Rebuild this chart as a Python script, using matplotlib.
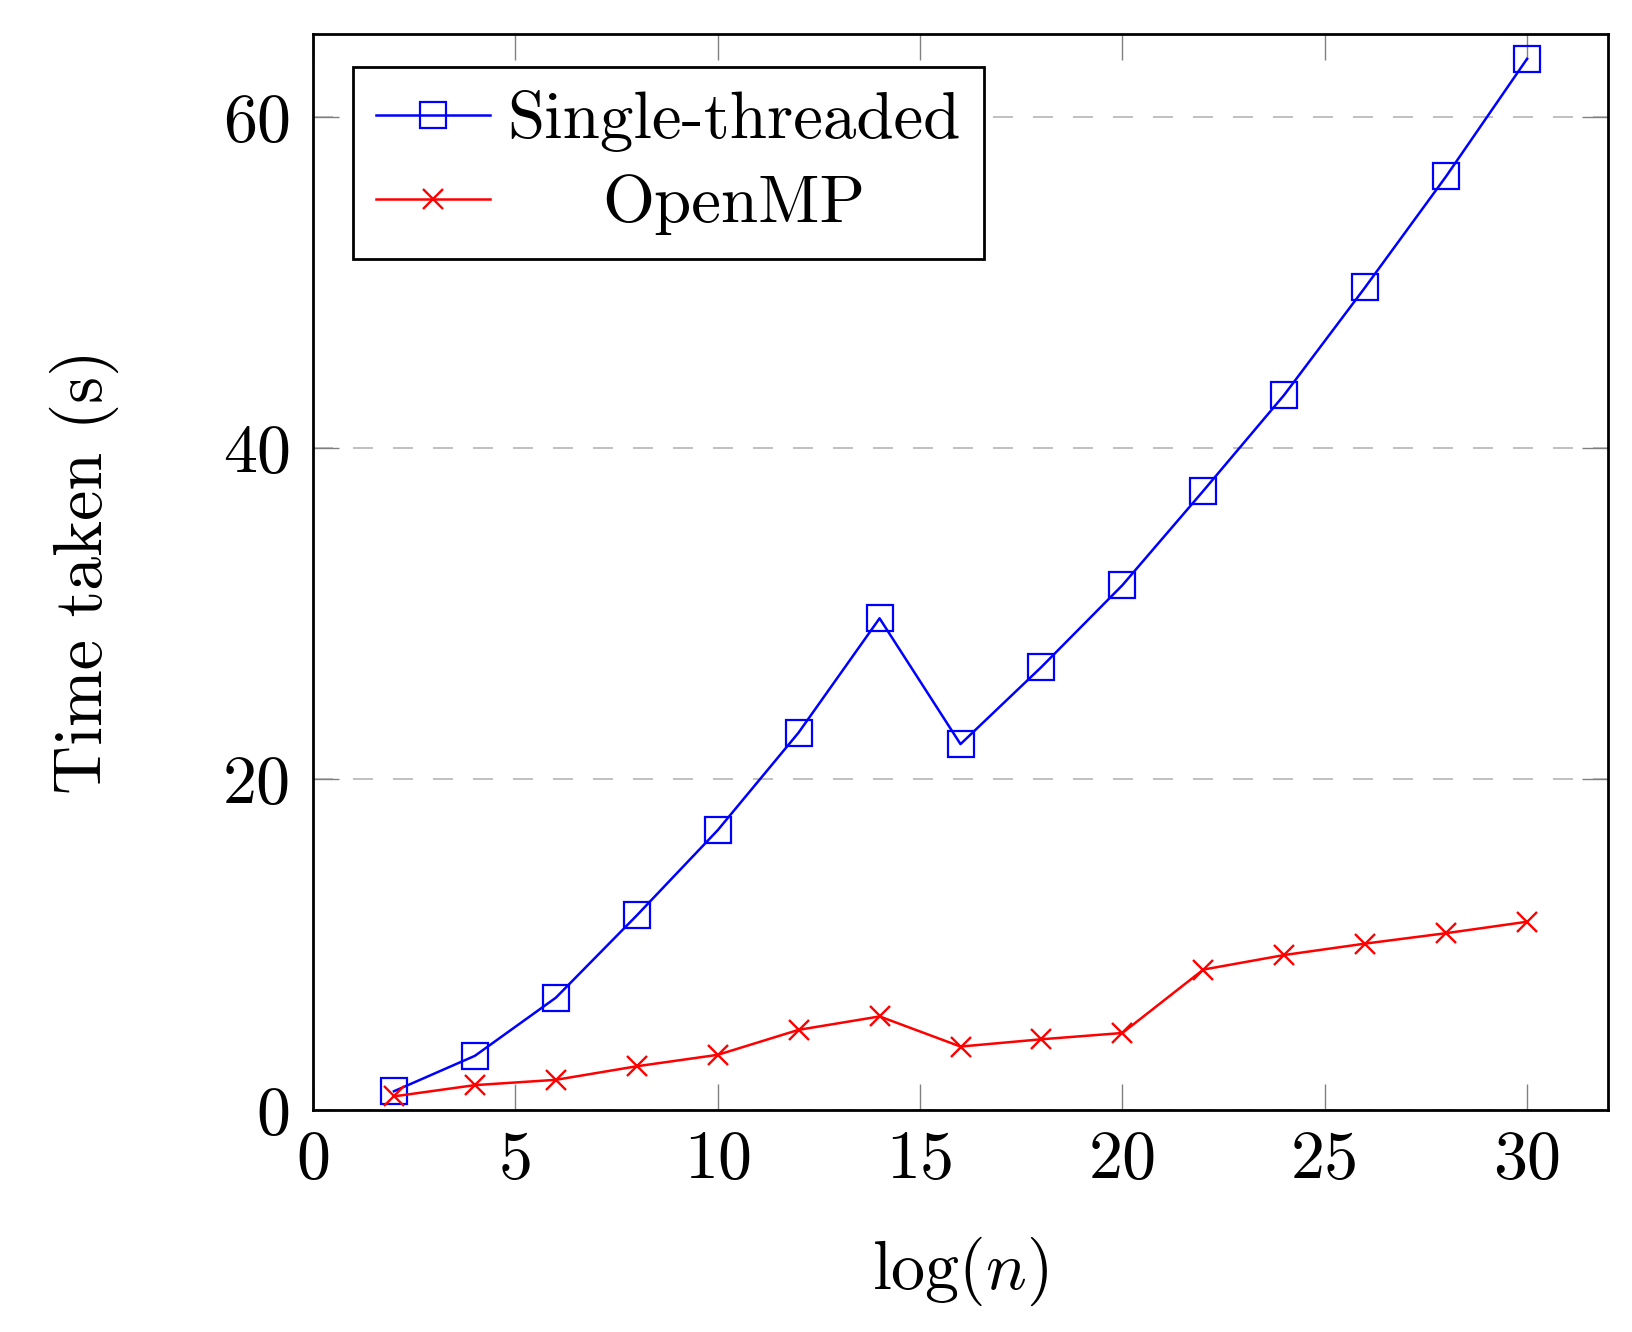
import matplotlib
matplotlib.use("Agg")
import matplotlib.pyplot as plt

# ===== Données =====
log_n = [2, 4, 6, 8, 10, 12, 14, 16, 18, 20, 22, 24, 26, 28, 30]
single = [1.13, 3.27, 6.78, 11.75, 16.9, 22.8, 29.7, 22.1, 26.76, 31.7, 37.4, 43.2, 49.7, 56.4, 63.5]
openmp = [0.82, 1.5, 1.82, 2.64, 3.33, 4.84, 5.65, 3.83, 4.27, 4.65, 8.48, 9.36, 10.05, 10.68, 11.37]

xticks = [0, 5, 10, 15, 20, 25, 30]
yticks = [0, 20, 40, 60]

plt.rcParams["font.family"] = "cmr10"
plt.rcParams["mathtext.fontset"] = "cm"
plt.rcParams["axes.formatter.use_mathtext"] = True
fs = 49

fig = plt.figure(figsize=(16.32, 13.32), dpi=100)
ax = fig.add_axes([0.1918, 0.1667, 0.7935, 0.8078])

ax.plot(log_n, single, color="blue", lw=1.8, marker="s", markersize=19,
        markerfacecolor="none", markeredgewidth=1.6, label="Single-threaded")
ax.plot(log_n, openmp, color="red", lw=1.8, marker="x", markersize=14,
        markeredgewidth=1.7, label="OpenMP")

ax.set_xlim(0, 32)
ax.set_ylim(0, 65)
ax.set_xticks(xticks)
ax.set_yticks(yticks)
ax.set_xticklabels([str(t) for t in xticks], fontsize=fs)
ax.set_yticklabels([str(t) for t in yticks], fontsize=fs)
ax.tick_params(direction="in", length=19, width=1, color="gray",
               top=True, right=True)
ax.tick_params(axis="x", pad=14)
ax.tick_params(axis="y", pad=16)
ax.yaxis.grid(True, linestyle=(0, (12, 12)), color="#b5b5b5", lw=1.2)
ax.set_axisbelow(True)
for s in ax.spines.values():
    s.set_linewidth(2)

ax.set_xlabel(r"log$(n)$", fontsize=fs, labelpad=32)
ax.set_ylabel("Time taken (s)", fontsize=fs, labelpad=75)

leg = ax.legend(loc="upper left", fontsize=48.2, fancybox=False, framealpha=1,
                edgecolor="black", handlelength=1.7, borderpad=0.35,
                labelspacing=0.33, handletextpad=0.25, borderaxespad=0,
                bbox_to_anchor=(40 / 1295, 1 - 33 / 1076))
leg.get_frame().set_linewidth(2)

# centrer le texte de la légende comme pgfplots
fig.canvas.draw()
texts = leg.get_texts()
widths = [t.get_window_extent().width for t in texts]
wmax = max(widths)
for t, w in zip(texts, widths):
    t.set_x((wmax - w) / 2)

fig.savefig("out.png", dpi=100)
